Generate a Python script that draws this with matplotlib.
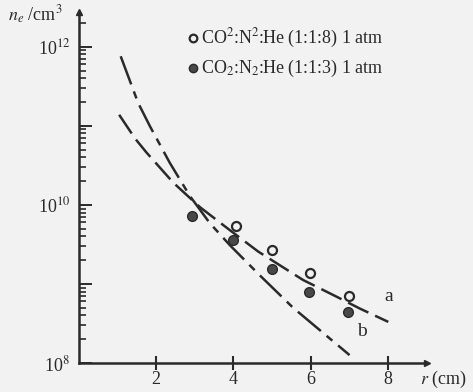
import matplotlib
matplotlib.use("Agg")
import matplotlib.pyplot as plt
import numpy as np
from matplotlib.ticker import LogLocator, NullFormatter, FixedLocator
from matplotlib.lines import Line2D

plt.rcParams['font.family'] = ['Liberation Serif', 'DejaVu Serif']
plt.rcParams['mathtext.fontset'] = 'stix'

# data
r_open = [4.06, 5.0, 5.99, 6.99]
ne_open = [10**9.73, 10**9.43, 10**9.14, 10**8.85]
r_fill = [2.92, 3.98, 4.99, 5.96, 6.96]
ne_fill = [10**9.86, 10**9.55, 10**9.19, 10**8.90, 10**8.64]

r_a = [1.05, 1.46, 1.76, 2.45, 3.14, 3.91, 4.64, 5.80, 6.66, 7.26, 8.0]
ne_a = [10**11.14, 10**10.84, 10**10.66, 10**10.28, 10**9.97, 10**9.68, 10**9.41, 10**9.05, 10**8.84, 10**8.69, 10**8.52]
r_b = [1.09, 1.54, 1.85, 2.36, 2.62, 2.88, 3.39, 3.91, 4.68, 5.54, 7.0]
ne_b = [10**11.88, 10**11.29, 10**10.99, 10**10.53, 10**10.32, 10**10.11, 10**9.77, 10**9.49, 10**9.11, 10**8.70, 10**8.10]

legend_labels = ["CO$^2$:N$^2$:He (1:1:8) 1 atm", "CO$_2$:N$_2$:He (1:1:3) 1 atm"]

bg = '#f2f2f2'
ink = '#2a2a2a'
fig = plt.figure(figsize=(4.73, 3.92), dpi=100, facecolor=bg)
ax = fig.add_axes([78.5/473, 29/392, (427-78.5)/473, (363-12)/392])
ax.set_facecolor(bg)
ax.set_yscale('log')
ax.set_xlim(0, 9)
ax.set_ylim(1e8, 10**12.44)

for s in ['top', 'right']:
    ax.spines[s].set_visible(False)
for s in ['left', 'bottom']:
    ax.spines[s].set_linewidth(1.8)
    ax.spines[s].set_color(ink)
ax.plot(1, 0, '>', color=ink, ms=4, transform=ax.transAxes, clip_on=False)
ax.plot(0, 1, '^', color=ink, ms=4, transform=ax.transAxes, clip_on=False)

ax.set_xticks([2, 4, 6, 8])
ax.set_xticklabels(['2', '4', '6', '8'])
ax.tick_params(axis='x', direction='inout', length=10, width=1.5, colors=ink, labelsize=13, pad=1)
ax.yaxis.set_major_locator(FixedLocator([1e8, 1e9, 1e10, 1e11, 1e12]))
ax.set_yticklabels(['10$^8$', '', '10$^{10}$', '', '10$^{12}$'])
ax.yaxis.set_minor_locator(LogLocator(base=10, subs=np.arange(2, 10)))
ax.yaxis.set_minor_formatter(NullFormatter())
ax.tick_params(axis='y', which='major', direction='in', length=9, width=1.4, colors=ink, labelsize=13, pad=6)
ax.tick_params(axis='y', which='minor', direction='in', length=5, width=1.2, colors=ink)

ax.plot(r_a, ne_a, color=ink, lw=1.8, dashes=(9, 3))
ax.plot(r_b, ne_b, color=ink, lw=1.8, dashes=(12, 3, 3, 3))
ax.plot(r_open, ne_open, 'o', mfc='none', mec=ink, mew=1.6, ms=6.5)
ax.plot(r_fill, ne_fill, 'o', mfc='#484848', mec=ink, mew=1, ms=7)

ax.text(7.9, 10**8.78, 'a', fontsize=14, color=ink)
ax.text(7.2, 10**8.34, 'b', fontsize=14, color=ink)

# legend
fig.add_artist(Line2D([193/473], [1 - 38/392], marker='o', mfc='none', mec=ink, mew=1.6, ms=5.5, transform=fig.transFigure))
fig.text(201/473, 1 - 38/392, legend_labels[0], fontsize=13, color=ink, va='center')
fig.add_artist(Line2D([193/473], [1 - 68/392], marker='o', mfc='#484848', mec=ink, mew=1, ms=6, transform=fig.transFigure))
fig.text(201/473, 1 - 68/392, legend_labels[1], fontsize=13, color=ink, va='center')

fig.text(8/473, 1 - 15/392, '$n_e$ /cm$^3$', fontsize=13, color=ink, va='center')
fig.text(420/473, 1 - 379/392, '$r$ (cm)', fontsize=13, color=ink, va='center')

fig.savefig('out.png', dpi=100, facecolor=bg)
